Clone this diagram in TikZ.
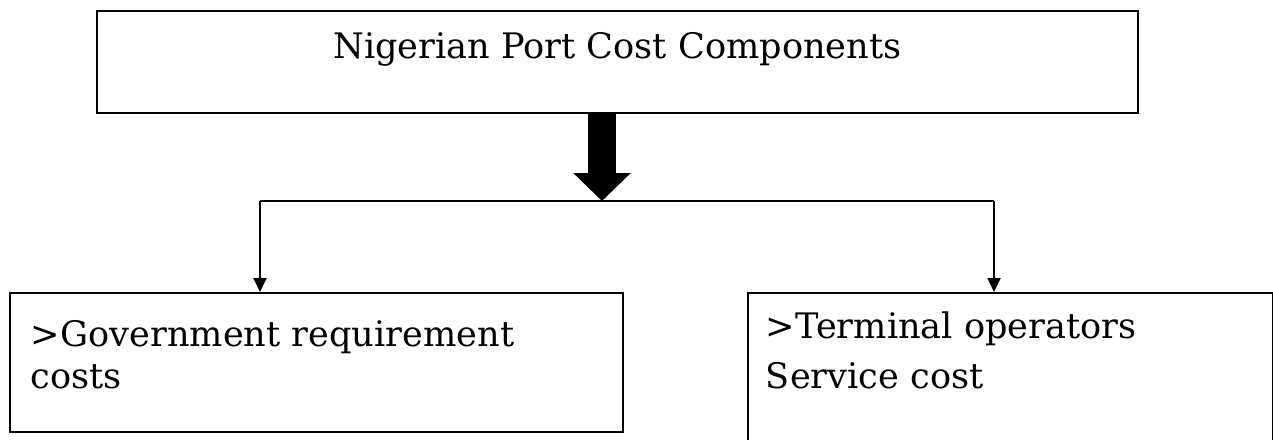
\documentclass[tikz,border=0pt]{standalone}
\usepackage{fontspec}
\setmainfont{DejaVu Serif}
\usetikzlibrary{positioning}
\usetikzlibrary{arrows.meta}

\begin{document}
\begin{tikzpicture}[x=0.02cm, y=-0.02cm,
                costbox/.style={rectangle, draw=black, line width=1.1pt, inner sep=0pt, font=\fontsize{20}{24}\selectfont},
                branch/.style={line width=1.1pt, -{Triangle[length=0.28cm, width=0.26cm]}},
                bigarrow/.style={line width=0.56cm, -{Triangle[length=0.56cm, width=1.12cm]}},
                ]
                \useasboundingbox (0,0) rectangle (1273,439);

                \node[costbox, anchor=north west, minimum width=20.82cm, text height=0.96cm, text depth=1.08cm] (top) at (96,10) {Nigerian Port Cost Components};
                \node[costbox, anchor=north west, inner xsep=0.42cm] (gov) at (9,292) {\parbox{11.42cm}{\fontsize{20}{0.84cm}\selectfont\rule{0pt}{1.08cm}>Government requirement\\ costs\rule[-0.86cm]{0pt}{0.86cm}}};
                \node[costbox, anchor=north west, inner xsep=0.36cm] (term) at (747,292) {\parbox{9.78cm}{\fontsize{20}{0.84cm}\selectfont\rule{0pt}{0.92cm}>Terminal operators\\[0.16cm] Service cost\rule[-1.34cm]{0pt}{1.34cm}}};

                \coordinate (jn) at (602,201);
                \coordinate (gl) at (260,201);
                \coordinate (tr) at (994,201);

                \draw[bigarrow] (top.south -| jn) -- (jn);
                \draw[line width=1.1pt] (gl) -- (tr);
                \draw[branch] (gl) -- (gl |- gov.north);
                \draw[branch] (tr) -- (tr |- term.north);
            \end{tikzpicture}
\end{document}
